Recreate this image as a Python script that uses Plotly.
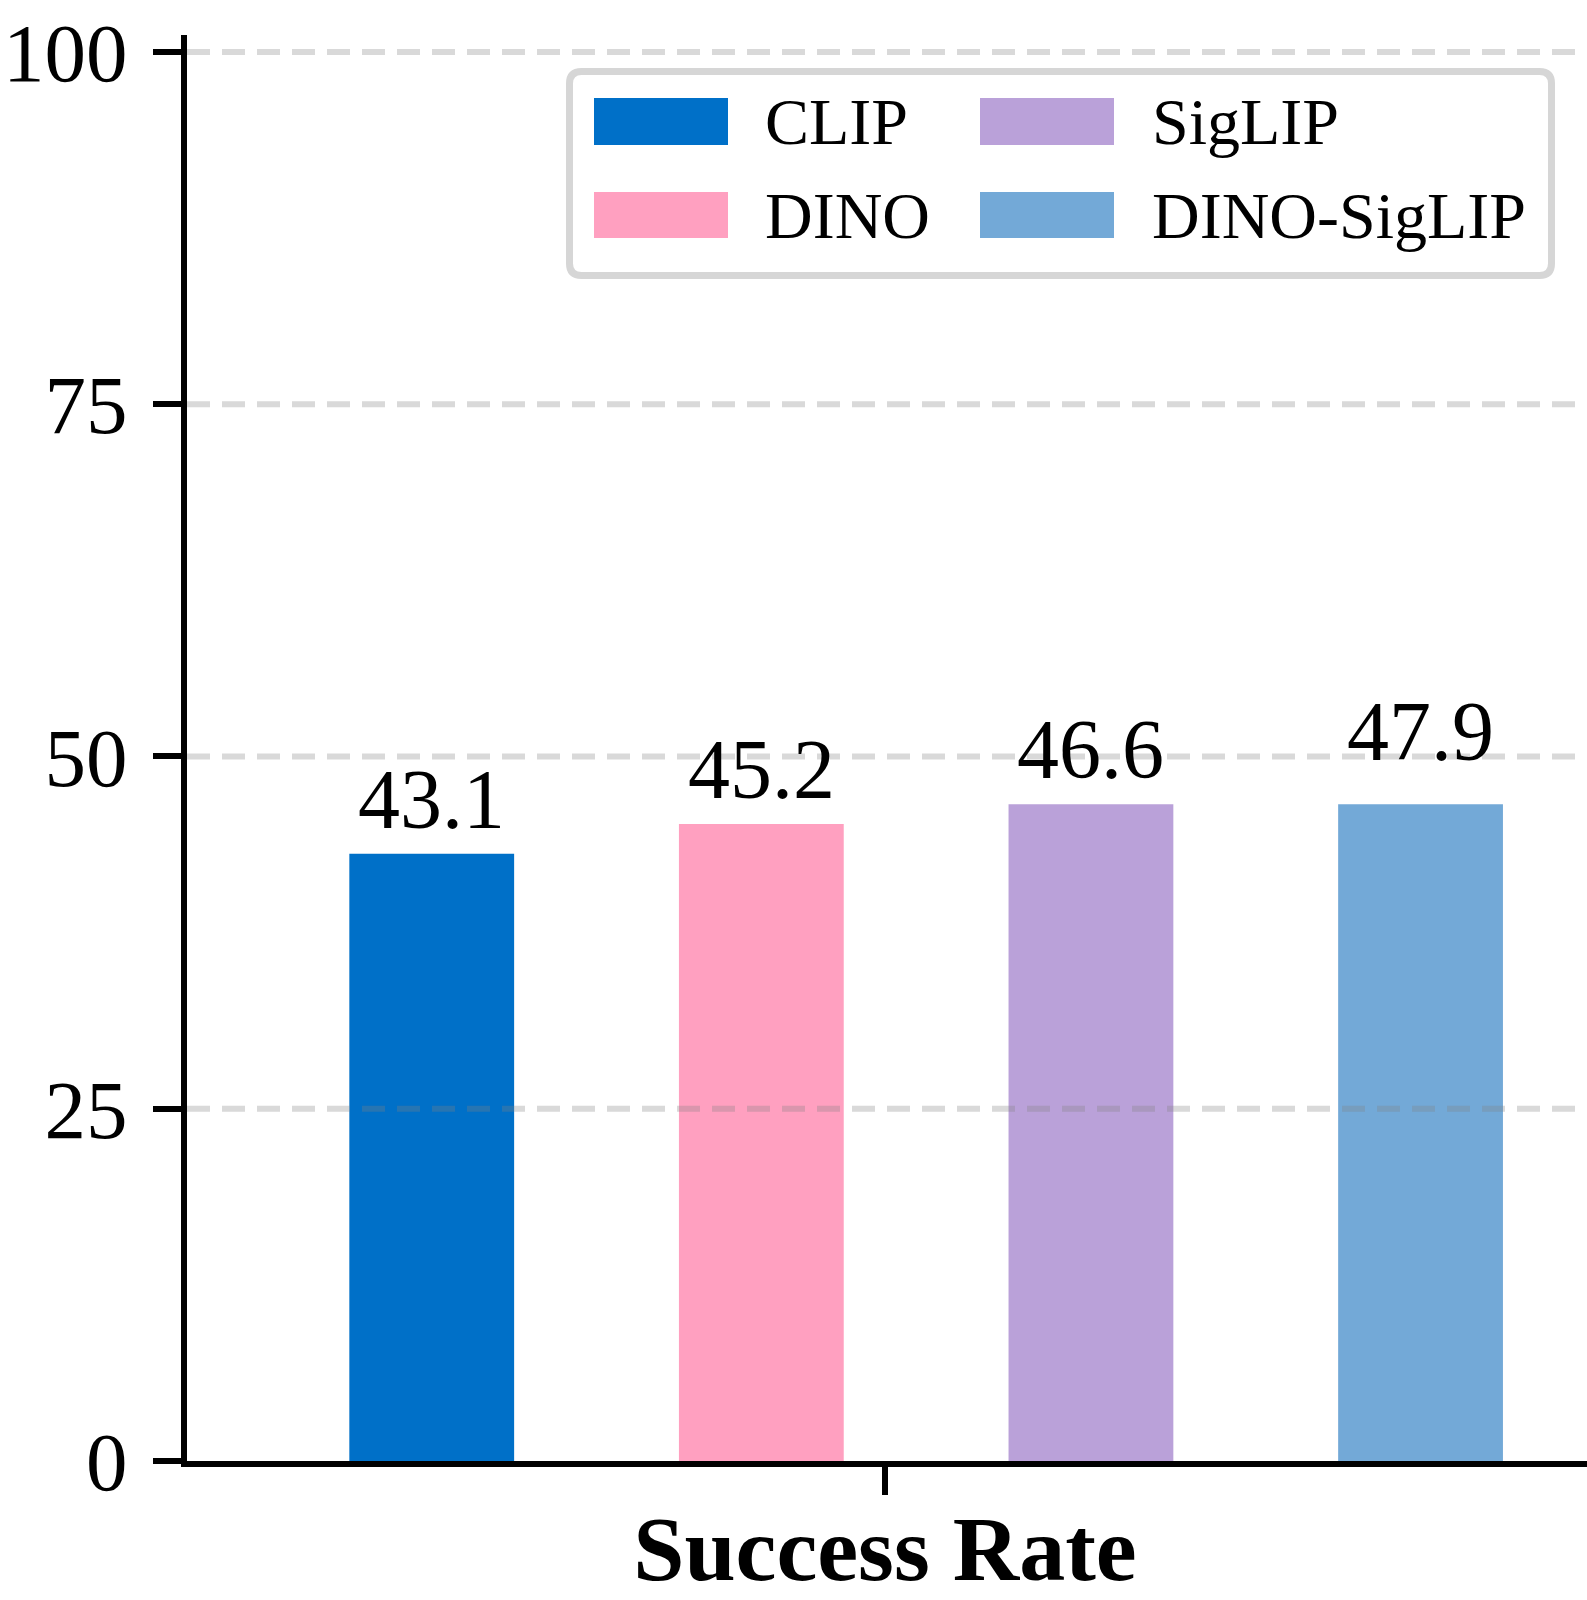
import plotly.graph_objects as go

# ---------------- data ----------------
models = ["CLIP", "DINO", "SigLIP", "DINO-SigLIP"]
bar_values = [43.1, 45.2, 46.6, 46.6]      # bar heights as drawn in the reference
label_values = [43.1, 45.2, 46.6, 47.9]    # value labels printed above the bars
colors = ["#0070C8", "#FFA0C0", "#BAA1D9", "#73A9D7"]
group_label = ["Success Rate"]
y_tick_values = [0, 25, 50, 75, 100]
y_tick_labels = ["0", "25", "50", "75", "100"]

# ---------------- layout constants ----------------
W, H = 1587, 1600
ML, MR, MT, MB = 187, 0, 35, 139
PW, PH = W - ML - MR, H - MT - MB
FONT = "Liberation Serif, Times New Roman, serif"
bar_width = 0.2
step = 0.4
positions = [(i - 1.375) * step for i in range(len(models))]


def px_x(px):
    return (px - ML) / PW


def px_y(py):
    return (H - MB - py) / PH


fig = go.Figure()
for name, pos, val, col in zip(models, positions, bar_values, colors):
    fig.add_trace(go.Bar(
        x=[pos], y=[val], width=bar_width, name=name,
        marker=dict(color=col, line=dict(width=0)),
        showlegend=False, hoverinfo="skip",
    ))

annotations = []
for pos, lab in zip(positions, label_values):
    annotations.append(dict(
        x=pos, y=lab, xref="x", yref="y", text=f"{lab:.1f}",
        showarrow=False, xanchor="center", yanchor="bottom", yshift=6,
        font=dict(family=FONT, size=84, color="black"),
    ))

shapes = []
# dashed, semi-transparent grid lines drawn above bars
for v in y_tick_values[1:]:
    shapes.append(dict(
        type="line", xref="paper", yref="y", x0=0, x1=1, y0=v, y1=v,
        line=dict(color="rgba(128,128,128,0.3)", width=6, dash="23px,12px"),
        layer="above",
    ))

# ---------------- custom legend (matplotlib style) ----------------
bx0, bx1, by0, by1, rad = 569.5, 1551.5, 71.5, 275.5, 12
path = (
    f"M {px_x(bx0 + rad)},{px_y(by0)} L {px_x(bx1 - rad)},{px_y(by0)} "
    f"Q {px_x(bx1)},{px_y(by0)} {px_x(bx1)},{px_y(by0 + rad)} "
    f"L {px_x(bx1)},{px_y(by1 - rad)} "
    f"Q {px_x(bx1)},{px_y(by1)} {px_x(bx1 - rad)},{px_y(by1)} "
    f"L {px_x(bx0 + rad)},{px_y(by1)} "
    f"Q {px_x(bx0)},{px_y(by1)} {px_x(bx0)},{px_y(by1 - rad)} "
    f"L {px_x(bx0)},{px_y(by0 + rad)} "
    f"Q {px_x(bx0)},{px_y(by0)} {px_x(bx0 + rad)},{px_y(by0)} Z"
)
shapes.append(dict(type="path", xref="paper", yref="paper", path=path,
                   fillcolor="white", line=dict(color="#D6D6D6", width=7),
                   layer="above"))

sw_cols = [(594, 728, 763), (980, 1114, 1150)]
sw_rows = [(98, 145), (192, 238)]
order = [(0, 0), (1, 0), (0, 1), (1, 1)]  # (row, col) per model: CLIP, DINO, SigLIP, DINO-SigLIP
for name, col, (r, c) in zip(models, colors, order):
    sx0, sx1, tx = sw_cols[c]
    sy0, sy1 = sw_rows[r]
    shapes.append(dict(type="rect", xref="paper", yref="paper",
                       x0=px_x(sx0), x1=px_x(sx1), y0=px_y(sy1), y1=px_y(sy0),
                       fillcolor=col, line=dict(width=0), layer="above"))
    annotations.append(dict(
        x=px_x(tx), y=px_y((sy0 + sy1) / 2), xref="paper", yref="paper",
        text=name, showarrow=False, xanchor="left", yanchor="middle",
        font=dict(family=FONT, size=66, color="black"),
    ))

fig.update_layout(
    width=W, height=H,
    margin=dict(l=ML, r=MR, t=MT, b=MB, pad=0, autoexpand=False),
    paper_bgcolor="white", plot_bgcolor="white",
    barmode="overlay",
    showlegend=False,
    shapes=shapes, annotations=annotations,
    xaxis=dict(
        range=[-0.847, 0.852], tickvals=[0],
        ticktext=[f"<b>{t}</b>" for t in group_label],
        tickfont=dict(family=FONT, size=92, color="black"),
        showline=True, linecolor="black", linewidth=6,
        ticks="outside", ticklen=28, tickwidth=6, tickcolor="black",
        ticklabelstandoff=-25,
        showgrid=False, zeroline=False, fixedrange=True, automargin=False,
    ),
    yaxis=dict(
        range=[0, 101.2], tickvals=y_tick_values, ticktext=y_tick_labels,
        tickfont=dict(family=FONT, size=83, color="black"),
        showline=True, linecolor="black", linewidth=6,
        ticks="outside", ticklen=28, tickwidth=6, tickcolor="black",
        ticklabelstandoff=9,
        showgrid=False, zeroline=False, fixedrange=True, automargin=False,
    ),
)

fig.write_html(
    "out.html",
    config={"displayModeBar": False},
    post_script="document.body.style.margin='0';"
                "document.documentElement.style.overflow='hidden';",
)
